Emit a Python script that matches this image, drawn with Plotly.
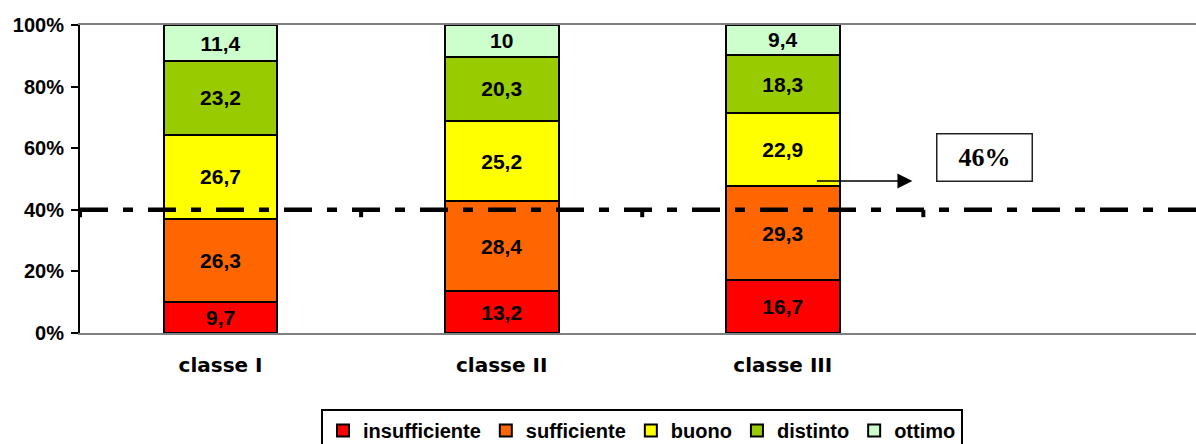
import plotly.graph_objects as go

# ---- data ----
categories = ["classe I", "classe II", "classe III"]
series_names = ["insufficiente", "sufficiente", "buono", "distinto", "ottimo"]
insufficiente = [9.7, 13.2, 16.7]
sufficiente = [26.3, 28.4, 29.3]
buono = [26.7, 25.2, 22.9]
distinto = [23.2, 20.3, 18.3]
ottimo = [11.4, 10, 9.4]
series_values = [insufficiente, sufficiente, buono, distinto, ottimo]
colors = ["#FF0000", "#FF6600", "#FFFF00", "#99CC00", "#CCFFCC"]
y_ticks = [0, 20, 40, 60, 80, 100]
threshold = 40
callout_text = "46%"

ARIAL = "Liberation Sans, Arial, sans-serif"
WIDE = "DejaVu Sans, Verdana, sans-serif"

x_pos = list(range(len(categories)))


def fmt(v):
    return f"{v:g}".replace(".", ",")


fig = go.Figure()
for name, vals, col in zip(series_names, series_values, colors):
    fig.add_trace(go.Bar(
        x=x_pos, y=vals, name=name,
        marker=dict(color=col, line=dict(color="black", width=2)),
        width=0.405,
        text=[fmt(v) for v in vals],
        textposition="inside", insidetextanchor="middle", textangle=0,
        constraintext="none",
        textfont=dict(family=ARIAL, size=21, color="black", weight="bold"),
        hoverinfo="skip",
    ))

# threshold dash-dot line
fig.add_shape(type="line", xref="paper", yref="y", x0=0, x1=1,
              y0=threshold, y1=threshold, layer="above",
              line=dict(color="black", width=4.5, dash="28px,15px,10px,15px"))

# small category-boundary tick marks hanging below the threshold line
for i in range(len(categories) + 1):
    b = i - 0.5
    fig.add_shape(type="line", xref="x", yref="y", x0=b, x1=b,
                  y0=threshold, y1=threshold - 2.4, layer="above",
                  line=dict(color="black", width=4))

# arrow and callout box
last = len(categories) - 1
fig.add_annotation(x=last + 0.461, y=49.35, ax=last + 0.116, ay=49.35,
                   xref="x", yref="y", axref="x", ayref="y",
                   text="", showarrow=True, arrowhead=2, arrowsize=2.3,
                   arrowwidth=1.3, arrowcolor="black")
fig.add_annotation(x=last + 0.717, y=57.0, xref="x", yref="y",
                   text=callout_text, showarrow=False,
                   font=dict(family="Liberation Serif, Times New Roman, serif",
                             size=26, color="black", weight="bold"),
                   bordercolor="#222222", borderwidth=1.5, bgcolor="white",
                   width=92, height=44)

fig.update_layout(
    barmode="stack", barnorm="percent",
    width=1196, height=444,
    margin=dict(l=80, r=0, t=25, b=111),
    paper_bgcolor="white", plot_bgcolor="white",
    showlegend=True,
    uniformtext=dict(minsize=21, mode="show"),
    legend=dict(orientation="h", xref="container", yref="container",
                x=0.5368, xanchor="center", y=1 - 409 / 444, yanchor="top",
                bordercolor="black", borderwidth=2, bgcolor="white",
                font=dict(family=ARIAL, size=20, color="black", weight="bold"),
                itemwidth=30, traceorder="normal",
                itemclick=False, itemdoubleclick=False),
    xaxis=dict(range=[-0.5, 3.47], tickvals=x_pos, ticktext=categories,
               showline=True, linecolor="#808080", linewidth=2, mirror=True,
               showgrid=False, zeroline=False, ticks="",
               ticklabelstandoff=13,
               tickfont=dict(family=WIDE, size=20, color="black", weight="bold")),
    yaxis=dict(range=[0, 100], tickvals=y_ticks,
               ticktext=[f"{t}%" for t in y_ticks],
               showline=True, linecolor="black", linewidth=2,
               ticks="outside", ticklen=7, tickwidth=2, tickcolor="black",
               showgrid=False, zeroline=False, ticklabelstandoff=3,
               tickfont=dict(family=ARIAL, size=20, color="black", weight="bold")),
)

fig.write_html(
    "out.html",
    config={"displayModeBar": False},
    post_script="document.body.style.margin='0';document.body.style.overflow='hidden';",
)
